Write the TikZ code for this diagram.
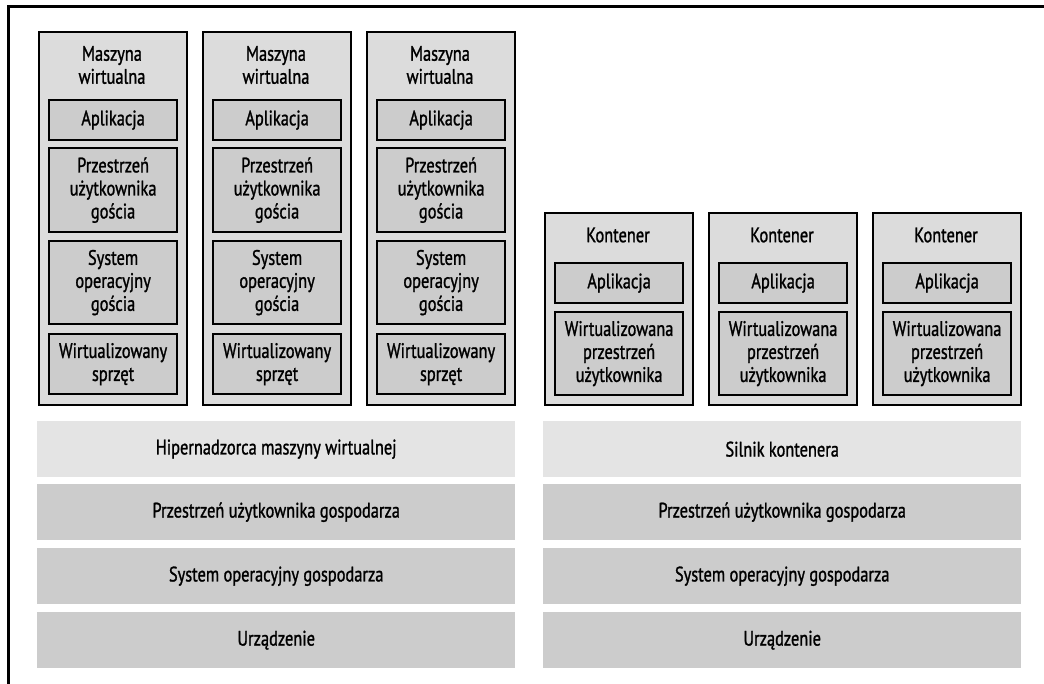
\documentclass[tikz,border=0pt]{standalone}
\usepackage{fontspec}
\setmainfont{PT Sans}[FakeStretch=0.78, FakeBold=1.2]
\definecolor{outerfill}{HTML}{DCDCDC}
\definecolor{innerfill}{HTML}{CCCCCC}
\definecolor{hyperfill}{HTML}{E4E4E4}
\definecolor{bandfill}{HTML}{CCCCCC}
\begin{document}
\begin{tikzpicture}[x=1pt,y=-1pt,
  txt/.style={font=\fontsize{21}{23}\selectfont, align=center},
  frame/.style={draw=black, line width=3pt},
  shell/.style={draw=black, line width=2.2pt, fill=outerfill, inner sep=0pt,
    anchor=north west, minimum width=148pt},
  layer/.style={draw=black, line width=2.2pt, fill=innerfill, inner sep=0pt,
    anchor=north west, minimum width=128pt, txt},
  band/.style={fill=bandfill, inner sep=0pt, anchor=north west,
    minimum width=478pt, minimum height=56pt, txt},
  hyper/.style={band, fill=hyperfill}
]
\useasboundingbox (0,0) rectangle (1044,684);
\fill[white] (0,0) rectangle (1044,684);

% page frame: left and top rules only
\draw[frame] (8,684) -- (8,7) -- (1044,7);

% virtual machines
\foreach \i/\x in {1/37,2/201,3/365}{
  \node[shell, minimum height=373pt] (vm\i) at (\x+1,31) {};
  \node[txt] (vm\i label) at (\x+75,65) {Maszyna\\wirtualna};
  \node[layer, minimum height=40pt] (vm\i app) at (\x+11,99) {Aplikacja};
  \node[layer, minimum height=84pt] (vm\i us) at (\x+11,147) {Przestrzeń\\użytkownika\\gościa};
  \node[layer, minimum height=83pt] (vm\i os) at (\x+11,240) {System\\operacyjny\\gościa};
  \node[layer, minimum height=60pt] (vm\i hw) at (\x+11,333) {Wirtualizowany\\sprzęt};
}

% containers
\foreach \i/\x in {1/543,2/707,3/871}{
  \node[shell, minimum height=192pt] (ct\i) at (\x+1,212) {};
  \node[txt] (ct\i label) at (\x+75,235) {Kontener};
  \node[layer, minimum height=40pt] (ct\i app) at (\x+11,262) {Aplikacja};
  \node[layer, minimum height=83pt] (ct\i us) at (\x+11,311) {Wirtualizowana\\przestrzeń\\użytkownika};
}

% host stacks
\node[hyper] (vmhyper) at (37,421) {Hipernadzorca maszyny wirtualnej};
\node[band] (vmhostus) at (37,484) {Przestrzeń użytkownika gospodarza};
\node[band] (vmhostos) at (37,548) {System operacyjny gospodarza};
\node[band] (vmhw) at (37,612) {Urządzenie};

\node[hyper] (ctengine) at (543,421) {Silnik kontenera};
\node[band] (cthostus) at (543,484) {Przestrzeń użytkownika gospodarza};
\node[band] (cthostos) at (543,548) {System operacyjny gospodarza};
\node[band] (cthw) at (543,612) {Urządzenie};
\end{tikzpicture}
\end{document}
